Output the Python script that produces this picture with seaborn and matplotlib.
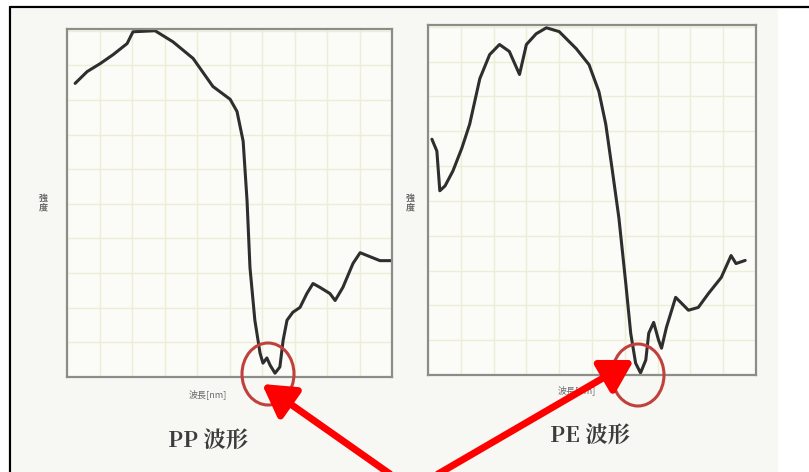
import matplotlib
matplotlib.use("Agg")
import matplotlib.pyplot as plt
import seaborn as sns
from matplotlib.patches import Ellipse, Rectangle, FancyArrowPatch
from matplotlib.lines import Line2D

# PP spectrum (normalised wavelength 0-100, intensity 0-100)
pp_x = [2.5, 6.2, 10.2, 14.2, 18.5, 20.3, 27.1, 32.6, 38.8, 44.9, 50.2, 52.3, 54.2,
        55.4, 56.3, 57.8, 59.4, 60.3, 61.5, 62.5, 64.0, 65.5, 66.5, 67.7, 69.5,
        71.7, 73.8, 75.7, 77.8, 80.9, 82.5, 84.9, 88.0, 90.2, 92.3, 96.3, 100.0]
pp_y = [84.8, 88.2, 90.5, 93.1, 96.3, 99.7, 100.0, 96.8, 92.0, 83.9, 80.2, 76.7, 68.1,
        50.9, 31.6, 16.4, 6.9, 4.0, 5.5, 3.4, 1.1, 2.9, 10.6, 16.4, 18.7,
        20.1, 24.1, 27.0, 25.9, 24.1, 22.1, 25.9, 32.8, 35.9, 35.1, 33.6, 33.6]

# PE spectrum
pe_x = [1.2, 2.7, 3.6, 5.2, 7.6, 10.3, 12.7, 15.8, 18.8, 21.8, 24.8, 27.9, 30.0,
        33.0, 36.1, 40.0, 45.2, 49.1, 52.1, 54.2, 56.1, 58.2, 60.3, 61.8, 63.3,
        64.8, 66.4, 67.3, 68.8, 70.3, 71.2, 72.7, 75.5, 77.3, 79.4, 82.4, 85.5,
        89.4, 92.4, 93.9, 96.7]
pe_y = [67.7, 64.3, 52.9, 54.3, 58.6, 65.1, 72.0, 85.1, 92.0, 94.9, 92.9, 86.3, 94.9,
        98.0, 99.7, 98.6, 93.7, 89.1, 81.4, 72.0, 59.4, 45.1, 26.3, 12.0, 3.4,
        0.6, 4.3, 12.0, 15.1, 10.0, 7.7, 13.7, 22.3, 20.6, 18.6, 19.4, 23.4,
        28.0, 34.3, 32.0, 32.9]

titles = ["PP 波形", "PE 波形"]
xlabel = "波長[nm]"
ylabel = "強\n度"
grid_ticks = list(range(0, 101, 10))

sns.set_theme(style="white")
plt.rcParams['font.family'] = ['Noto Sans CJK JP', 'DejaVu Sans']
serif = ['Noto Serif CJK JP', 'Noto Sans CJK JP', 'DejaVu Serif']

W, H = 809, 472
fig = plt.figure(figsize=(W / 100, H / 100), dpi=100)
fig.patch.set_facecolor("white")

# scanned paper background and frame
fig.add_artist(Rectangle((12 / W, 0), (778 - 12) / W, 1 - 9 / H, transform=fig.transFigure,
                         facecolor="#f7f7f3", edgecolor="none", zorder=0))
fig.add_artist(Line2D([10 / W, 1], [1 - 7 / H, 1 - 7 / H], transform=fig.transFigure,
                      color="black", lw=1.6))
fig.add_artist(Line2D([10 / W, 10 / W], [0, 1 - 7 / H], transform=fig.transFigure,
                      color="black", lw=1.6))


def px_rect(x0, y0, x1, y1):
    return [x0 / W, 1 - y1 / H, (x1 - x0) / W, (y1 - y0) / H]


panels = [
    (px_rect(67, 29, 392, 377), pp_x, pp_y),
    (px_rect(428, 25, 756, 375), pe_x, pe_y),
]

for rect, xs, ys in panels:
    ax = fig.add_axes(rect)
    ax.set_facecolor("#fbfbf8")
    sns.lineplot(x=xs, y=ys, sort=False, ax=ax, color="#2e2e2e", lw=2.2)
    ax.set_xlim(0, 100)
    ax.set_ylim(0, 100.5)
    ax.set_xticks(grid_ticks)
    ax.set_yticks(grid_ticks)
    ax.set_xticklabels([])
    ax.set_yticklabels([])
    ax.tick_params(length=0)
    ax.grid(True, color="#ecefd6", lw=1.0)
    for s in ax.spines.values():
        s.set_color("#8c8c88")
        s.set_linewidth(1.6)

# axis labels and titles (figure pixel positions)
for x, y in [(43, 203), (410, 203)]:
    fig.text(x / W, 1 - y / H, ylabel, fontsize=6.5, color="#6a6a6a",
             ha="center", va="center", linespacing=1.0, fontweight="bold")
fig.text(208 / W, 1 - 394 / H, xlabel, fontsize=6.5, color="#6a6a6a", ha="center", va="center")
fig.text(577 / W, 1 - 390 / H, xlabel, fontsize=6.5, color="#6a6a6a", ha="center", va="center")
fig.text(208 / W, 1 - 441 / H, titles[0], fontsize=16, color="#3c3c3c", ha="center", va="center",
         fontweight="bold", family=serif)
fig.text(590 / W, 1 - 436 / H, titles[1], fontsize=16, color="#3c3c3c", ha="center", va="center",
         fontweight="bold", family=serif)

# red circles
for cx, cy in [(268, 374), (638, 375)]:
    fig.add_artist(Ellipse((cx / W, 1 - cy / H), 52 / W, 62 / H, transform=fig.transFigure,
                           fill=False, edgecolor="#c0403c", lw=2.2, zorder=5))

# red arrows
for (x0, y0), (x1, y1) in [((390, 474), (262, 384)), ((438, 474), (634, 360))]:
    fig.add_artist(FancyArrowPatch((x0 / W, 1 - y0 / H), (x1 / W, 1 - y1 / H),
                                   transform=fig.transFigure,
                                   arrowstyle="-|>,head_length=12,head_width=7",
                                   mutation_scale=1.6, color="#ff0000", lw=5,
                                   shrinkA=0, shrinkB=0, zorder=6))

fig.savefig("out.png", dpi=100)
